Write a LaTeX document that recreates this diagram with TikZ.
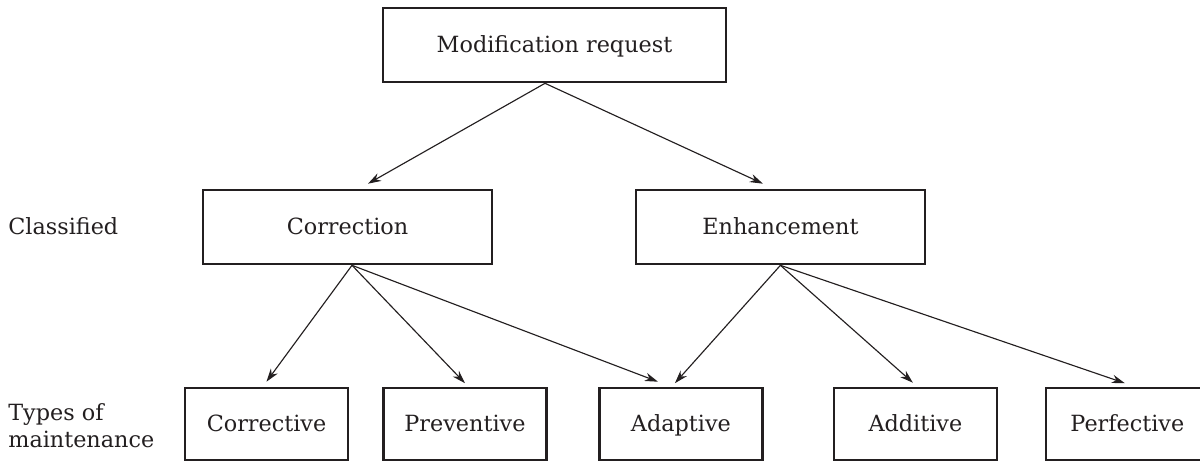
\documentclass[tikz,border=0pt]{standalone}
\usepackage{fontspec}
\setmainfont{DejaVu Serif}
\usetikzlibrary{arrows.meta}
\definecolor{ink}{HTML}{231F20}

\tikzstyle{root} = [draw, rectangle, line width=1.5pt, minimum width=6.86cm, minimum height=1.48cm, text height=2.2ex, text depth=0.6ex]
\tikzstyle{kind} = [draw, rectangle, line width=1.5pt, minimum width=5.78cm, minimum height=1.48cm, text height=2.2ex, text depth=0.6ex]
\tikzstyle{leaf} = [draw, rectangle, line width=1.5pt, minimum width=3.26cm, minimum height=1.44cm, text height=2.2ex, text depth=0.6ex]
\tikzstyle{label} = [inner sep=0pt, align=left]

\begin{document}
\begin{tikzpicture}[x=0.02cm,y=-0.02cm,>={Stealth[length=7.5pt,width=4.8pt]},
  color=ink,font=\fontsize{12.7}{15.3}\selectfont]
\useasboundingbox (0,0) rectangle (1200,462);

\node[root] (req) at (554.5,45) {Modification request};
\node[kind] (corr) at (347.5,227) {Correction};
\node[kind,right of=corr,node distance=8.66cm] (enh) {Enhancement};

\node[leaf] (cv) at (266.5,424) {Corrective};
\node[leaf,right of=cv,node distance=3.97cm] (pv) {Preventive};
\node[leaf,right of=pv,node distance=4.32cm] (ad) {Adaptive};
\node[leaf,right of=ad,node distance=4.69cm] (add) {Additive};
\node[leaf,right of=add,node distance=4.24cm] (pf) {Perfective};

\node[label,anchor=base west] (cls) at (8,235) {Classified};
\node[label,anchor=west] (types) at (8,426) {Types of\\maintenance};

\draw[->,line width=0.65pt] ([xshift=-0.19cm]req.south) -- ([xshift=0.41cm,yshift=0.1cm]corr.north);
\draw[->,line width=0.65pt] ([xshift=-0.19cm]req.south) -- ([xshift=-0.35cm,yshift=0.1cm]enh.north);

\draw[->,line width=0.65pt] ([xshift=0.09cm]corr.south) -- ([yshift=0.1cm]cv.north);
\draw[->,line width=0.65pt] ([xshift=0.09cm]corr.south) -- ([yshift=0.07cm]pv.north);
\draw[->,line width=0.65pt] ([xshift=0.09cm]corr.south) -- ([xshift=-0.46cm,yshift=0.1cm]ad.north);

\draw[->,line width=0.65pt] (enh.south) -- ([xshift=-0.12cm,yshift=0.07cm]ad.north);
\draw[->,line width=0.65pt] (enh.south) -- ([xshift=-0.05cm,yshift=0.08cm]add.north);
\draw[->,line width=0.65pt] (enh.south) -- ([xshift=-0.05cm,yshift=0.07cm]pf.north);

\end{tikzpicture}
\end{document}
